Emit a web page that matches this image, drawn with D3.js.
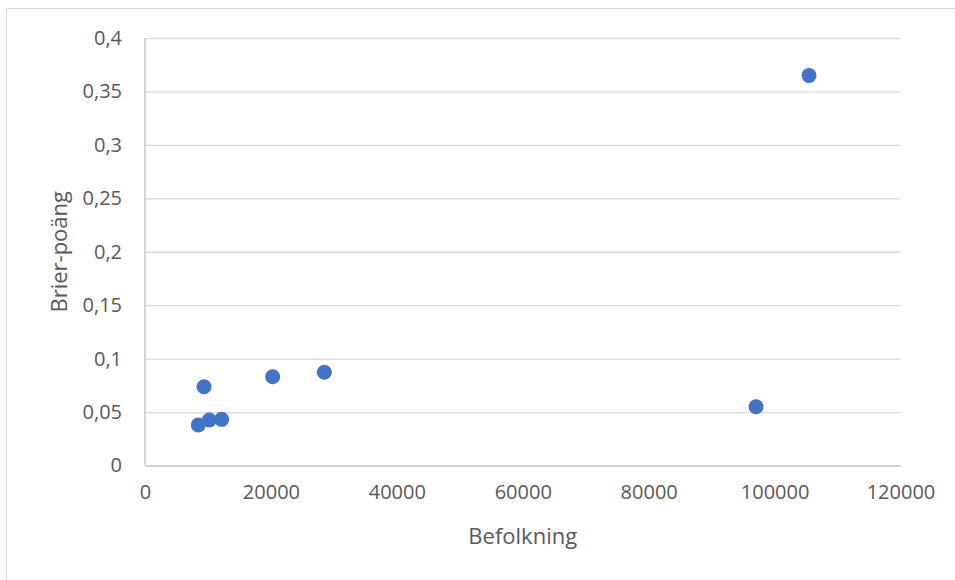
<!DOCTYPE html>
<html>
<head>
<meta charset="utf-8">
<script src="https://cdn.jsdelivr.net/npm/d3@7"></script>
<style>
  html, body { margin: 0; padding: 0; background: #fff; }
  svg { display: block; }
  text { font-family: "Open Sans", "Liberation Sans", sans-serif; fill: #595959; }
</style>
</head>
<body>
<svg id="chart" width="955" height="580"></svg>
<script>
// Population per municipality and its Brier score
const population = [8466, 9371, 10213, 12180, 20280, 28480, 97050, 105470];
const brierScore = [0.0379, 0.0737, 0.0426, 0.0432, 0.0831, 0.0872, 0.055, 0.365];
const xTicks = [0, 20000, 40000, 60000, 80000, 100000, 120000];
const yTicks = [0, 0.05, 0.1, 0.15, 0.2, 0.25, 0.3, 0.35, 0.4];
const xTitle = "Befolkning";
const yTitle = "Brier-poäng";

const svg = d3.select("#chart");
const W = 955, H = 580;
const plot = { left: 145, right: 900.5, top: 38, bottom: 465.5 };

// Outer chart frame
svg.append("rect")
  .attr("x", 6.5).attr("y", 8.5)
  .attr("width", W + 10).attr("height", H + 10)
  .attr("fill", "none").attr("stroke", "#d9d9d9").attr("stroke-width", 1);

const x = d3.scaleLinear().domain([0, 120000]).range([plot.left, plot.right]);
const y = d3.scaleLinear().domain([0, 0.4]).range([plot.bottom, plot.top]);

const fmtY = v => String(+v.toFixed(2)).replace(".", ",");

// Horizontal gridlines
const yAxis = d3.axisLeft(y).tickValues(yTicks).tickSize(-(plot.right - plot.left)).tickFormat(fmtY).tickPadding(23);
const gy = svg.append("g").attr("transform", `translate(${plot.left},0)`).call(yAxis);
gy.select(".domain").remove();
gy.selectAll(".tick line").attr("stroke", "#d9d9d9").attr("stroke-width", 1.3);
gy.selectAll(".tick text").attr("font-size", 20).style("fill", "#595959")
  .style("font-family", "'Open Sans', sans-serif");
gy.selectAll(".tick").filter(d => d === 0).select("line").remove();

// Vertical and horizontal axis lines
svg.append("line").attr("x1", plot.left).attr("x2", plot.left)
  .attr("y1", plot.top).attr("y2", plot.bottom)
  .attr("stroke", "#bfbfbf").attr("stroke-width", 1.3);

const xAxis = d3.axisBottom(x).tickValues(xTicks).tickSize(0).tickFormat(d3.format("d")).tickPadding(19);
const gx = svg.append("g").attr("transform", `translate(0,${plot.bottom})`).call(xAxis);
gx.select(".domain").attr("stroke", "#bfbfbf").attr("stroke-width", 1.3);
gx.selectAll(".tick text").attr("font-size", 20).style("fill", "#595959")
  .style("font-family", "'Open Sans', sans-serif");

// Axis titles
svg.append("text").attr("x", (plot.left + plot.right) / 2).attr("y", 544)
  .attr("text-anchor", "middle").attr("font-size", 22).text(xTitle);
svg.append("text")
  .attr("transform", `translate(67,${(plot.top + plot.bottom) / 2}) rotate(-90)`)
  .attr("text-anchor", "middle").attr("font-size", 22).text(yTitle);

// Scatter markers
svg.append("g").selectAll("circle")
  .data(population.map((p, i) => ({ p, b: brierScore[i] })))
  .join("circle")
  .attr("cx", d => x(d.p)).attr("cy", d => y(d.b))
  .attr("r", 7.5).attr("fill", "#4472c4");
</script>
</body>
</html>
